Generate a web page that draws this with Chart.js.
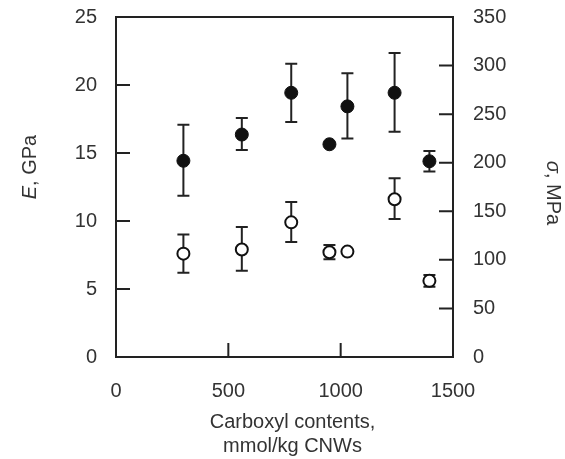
<!DOCTYPE html>
<html>
<head>
<meta charset="utf-8">
<script src="https://cdn.jsdelivr.net/npm/chart.js@4"></script>
<style>
  html, body { margin: 0; padding: 0; background: #fff; }
  #wrap { width: 565px; height: 459px; }
</style>
</head>
<body>
<div id="wrap"><canvas id="chart"></canvas></div>
<script>
// carboxyl content, mmol/kg CNWs
const carboxyl = [300, 560, 780, 950, 1030, 1240, 1395];

// tensile strength (filled circles, right axis, MPa)
const strength = [202, 229, 272, 219, 258, 272, 201.5];
const strengthLow = [166, 213, 242, null, 225, 232, 191];
const strengthHigh = [239, 246, 302, null, 292, 313, 212];

// Young's modulus (open circles, left axis, GPa)
const modulus = [7.6, 7.9, 9.9, 7.7, 7.75, 11.6, 5.6];
const modulusLow = [6.2, 6.35, 8.45, 7.18, null, 10.15, 5.17];
const modulusHigh = [9.0, 9.55, 11.4, 8.24, null, 13.15, 6.03];

const xTicks = [0, 500, 1000, 1500];
const leftTicks = [0, 5, 10, 15, 20, 25];
const rightTicks = [0, 50, 100, 150, 200, 250, 300, 350];

const FONT = "'Liberation Sans', Arial, Helvetica, sans-serif";
const INK = '#222';
const TEXT = '#333';

function toPoints(xs, ys) {
    return xs.map((x, i) => ({ x: x, y: ys[i] }));
}

// frame, inward tick marks and error bars, drawn under the markers
const framePlugin = {
    id: 'frame',
    beforeDatasetsDraw(chart) {
        const ctx = chart.ctx;
        const a = chart.chartArea;
        const sx = chart.scales.x, sl = chart.scales.y, sr = chart.scales.y1;
        ctx.save();
        ctx.strokeStyle = INK;
        ctx.lineWidth = 2;
        ctx.strokeRect(a.left, a.top, a.right - a.left, a.bottom - a.top);

        const tick = 14;
        ctx.beginPath();
        xTicks.slice(1, -1).forEach(v => {
            const x = sx.getPixelForValue(v);
            ctx.moveTo(x, a.bottom);
            ctx.lineTo(x, a.bottom - tick);
        });
        leftTicks.slice(1, -1).forEach(v => {
            const y = sl.getPixelForValue(v);
            ctx.moveTo(a.left, y);
            ctx.lineTo(a.left + tick, y);
        });
        rightTicks.slice(1, -1).forEach(v => {
            const y = sr.getPixelForValue(v);
            ctx.moveTo(a.right, y);
            ctx.lineTo(a.right - tick, y);
        });
        ctx.stroke();

        // error bars
        ctx.lineWidth = 2;
        chart.data.datasets.forEach(ds => {
            const ys = chart.scales[ds.yAxisID];
            ds.data.forEach((p, i) => {
                if (ds.low[i] == null) return;
                const x = sx.getPixelForValue(p.x);
                const yl = ys.getPixelForValue(ds.low[i]);
                const yh = ys.getPixelForValue(ds.high[i]);
                const cap = 6;
                ctx.beginPath();
                ctx.moveTo(x, yl);
                ctx.lineTo(x, yh);
                ctx.moveTo(x - cap, yl);
                ctx.lineTo(x + cap, yl);
                ctx.moveTo(x - cap, yh);
                ctx.lineTo(x + cap, yh);
                ctx.stroke();
            });
        });
        ctx.restore();
    }
};

// axis titles with italic symbols
function drawMixed(ctx, parts, size) {
    let total = 0;
    parts.forEach(p => {
        ctx.font = (p.italic ? 'italic ' : '') + size + 'px ' + FONT;
        p.w = ctx.measureText(p.text).width;
        total += p.w;
    });
    let x = -total / 2;
    parts.forEach(p => {
        ctx.font = (p.italic ? 'italic ' : '') + size + 'px ' + FONT;
        ctx.fillText(p.text, x, 0);
        x += p.w;
    });
}

const titlePlugin = {
    id: 'titles',
    afterDraw(chart) {
        const ctx = chart.ctx;
        const a = chart.chartArea;
        ctx.save();
        ctx.fillStyle = TEXT;
        ctx.textBaseline = 'middle';
        ctx.textAlign = 'left';

        ctx.save();
        ctx.translate(a.left - 86, a.top + 150);
        ctx.rotate(-Math.PI / 2);
        drawMixed(ctx, [{ text: 'E', italic: true }, { text: ', GPa' }], 20);
        ctx.restore();

        ctx.save();
        ctx.translate(a.right + 100, a.top + 176);
        ctx.rotate(Math.PI / 2);
        drawMixed(ctx, [{ text: 'σ', italic: true }, { text: ', MPa' }], 20);
        ctx.restore();

        ctx.textAlign = 'center';
        ctx.font = '20px ' + FONT;
        const cx = (a.left + a.right) / 2 + 8;
        ctx.fillText('Carboxyl contents,', cx, a.bottom + 65);
        ctx.fillText('mmol/kg CNWs', cx, a.bottom + 89);
        ctx.restore();
    }
};

const tickFont = { family: FONT, size: 20 };

function fitY(width) {
    return s => {
        s.width = width;
        s.paddingTop = 0;
        s.paddingBottom = 0;
    };
}

new Chart(document.getElementById('chart'), {
    type: 'scatter',
    data: {
        datasets: [
            {
                label: 'σ',
                data: toPoints(carboxyl, strength),
                low: strengthLow,
                high: strengthHigh,
                yAxisID: 'y1',
                pointRadius: 6.5,
                pointBackgroundColor: '#111',
                pointBorderColor: '#111',
                pointBorderWidth: 1
            },
            {
                label: 'E',
                data: toPoints(carboxyl, modulus),
                low: modulusLow,
                high: modulusHigh,
                yAxisID: 'y',
                pointRadius: 6,
                pointBackgroundColor: '#fff',
                pointBorderColor: '#111',
                pointBorderWidth: 2
            }
        ]
    },
    options: {
        responsive: true,
        maintainAspectRatio: false,
        animation: false,
        layout: { padding: { top: 17, left: 0, right: 0, bottom: 0 } },
        plugins: {
            legend: { display: false },
            tooltip: { enabled: false }
        },
        scales: {
            x: {
                type: 'linear',
                min: 0,
                max: 1500,
                afterBuildTicks: s => { s.ticks = xTicks.map(v => ({ value: v })); },
                afterFit: s => { s.height = 102; s.paddingLeft = 0; s.paddingRight = 0; },
                grid: { display: false, drawTicks: false },
                border: { display: false },
                ticks: { font: tickFont, color: TEXT, padding: 22, maxRotation: 0, callback: v => String(v) }
            },
            y: {
                position: 'left',
                min: 0,
                max: 25,
                afterBuildTicks: s => { s.ticks = leftTicks.map(v => ({ value: v })); },
                afterFit: fitY(116),
                grid: { display: false, drawTicks: false },
                border: { display: false },
                ticks: { font: tickFont, color: TEXT, padding: 19 }
            },
            y1: {
                position: 'right',
                min: 0,
                max: 350,
                afterBuildTicks: s => { s.ticks = rightTicks.map(v => ({ value: v })); },
                afterFit: fitY(112),
                grid: { display: false, drawTicks: false },
                border: { display: false },
                ticks: { font: tickFont, color: TEXT, padding: 20 }
            }
        }
    },
    plugins: [framePlugin, titlePlugin]
});
</script>
</body>
</html>
